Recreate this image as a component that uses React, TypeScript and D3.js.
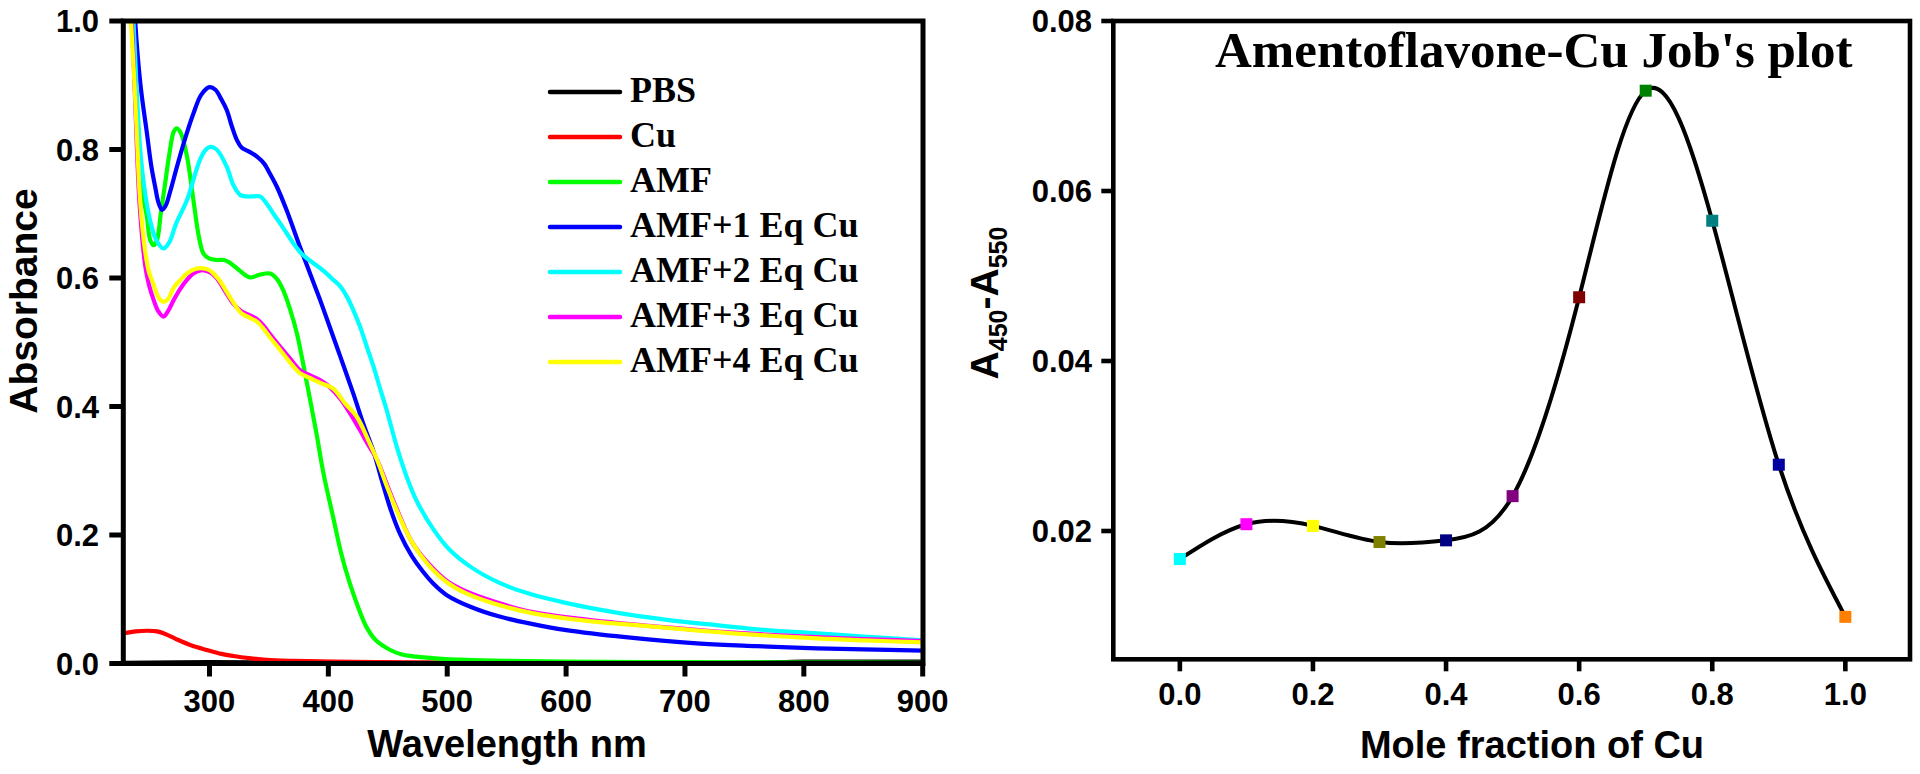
import React from "react";
import * as d3 from "d3";

// ---------- Left panel data (wavelength nm, absorbance) ----------
const seriesNames = ["PBS", "Cu", "AMF", "AMF+1 Eq Cu", "AMF+2 Eq Cu", "AMF+3 Eq Cu", "AMF+4 Eq Cu"];
const seriesColors = ["#000000", "#FF0000", "#00FF00", "#0000FF", "#00FFFF", "#FF00FF", "#FFFF00"];

const pbs: [number, number][] = [
  [228, 0.001], [300, 0.002], [400, 0.001], [500, 0.001], [600, 0.001], [700, 0.001],
  [780, 0.002], [800, 0.003], [850, 0.003], [900, 0.003],
];
const cu: [number, number][] = [
  [228, 0.047], [238, 0.05], [248, 0.051], [256, 0.05], [264, 0.045], [272, 0.038], [285, 0.028],
  [298, 0.021], [310, 0.015], [320, 0.0117], [335, 0.008], [348, 0.0055], [370, 0.004], [404, 0.003],
  [450, 0.002], [500, 0.0015], [600, 0.001], [700, 0.0005], [800, 0.0003], [900, 0.0],
];
const amf: [number, number][] = [
  [229, 1.3], [233, 1.05], [236, 0.95], [240, 0.8], [244, 0.73], [247.4, 0.695], [250, 0.66], [253, 0.651],
  [256, 0.66], [259, 0.7], [262.7, 0.747], [266, 0.79], [270, 0.828], [272.6, 0.833], [276, 0.825],
  [281, 0.79], [286.5, 0.721], [291, 0.665], [295, 0.638], [300, 0.63], [306, 0.628], [312, 0.628],
  [317, 0.624], [325, 0.612], [334, 0.601], [342, 0.605], [351, 0.607], [357, 0.598], [362, 0.581],
  [368, 0.55], [373.5, 0.514], [382, 0.436], [390, 0.358], [396, 0.295], [404, 0.228], [411, 0.17],
  [418, 0.125], [425, 0.088], [432, 0.057], [440, 0.036], [452, 0.021], [462, 0.014], [474, 0.0106],
  [490, 0.008], [516, 0.0055], [550, 0.004], [600, 0.003], [700, 0.002], [800, 0.0015], [900, 0.001],
];
const amf1: [number, number][] = [
  [230, 1.4], [234, 1.15], [237.5, 1.0], [242, 0.9], [247.4, 0.825], [251, 0.775], [254.3, 0.742],
  [257, 0.718], [260, 0.706], [263, 0.712], [267, 0.735], [272.6, 0.773], [280, 0.82], [286.5, 0.856],
  [293, 0.885], [300, 0.897], [305, 0.893], [310, 0.878], [314.6, 0.861], [319, 0.835], [323, 0.815],
  [327, 0.803], [333, 0.797], [340, 0.789], [346, 0.778], [351, 0.762], [356.7, 0.742], [365, 0.705],
  [376, 0.649], [385, 0.605], [393, 0.566], [400, 0.53], [410, 0.478], [421, 0.42], [430, 0.37],
  [438, 0.33], [445, 0.285], [452, 0.242], [460, 0.203], [470, 0.168], [480, 0.142], [488, 0.125],
  [500, 0.106], [520, 0.088], [544, 0.073], [570, 0.062], [600, 0.052], [650, 0.041], [713, 0.031],
  [760, 0.027], [811, 0.0236], [850, 0.022], [900, 0.02],
];
const amf2: [number, number][] = [
  [229, 1.4], [233, 1.1], [236, 1.0], [241.7, 0.8], [246, 0.73], [250, 0.69], [255, 0.66], [261.3, 0.646],
  [266, 0.655], [272, 0.685], [281, 0.721], [292, 0.784], [297, 0.8], [300.6, 0.804], [306, 0.8],
  [314.6, 0.773], [320, 0.745], [326, 0.729], [331.5, 0.727], [337, 0.727], [342.6, 0.727], [348, 0.716],
  [353.8, 0.7], [362, 0.678], [370.6, 0.654], [378, 0.637], [387.5, 0.623], [396, 0.611], [404.3, 0.597],
  [410, 0.587], [415.6, 0.571], [421, 0.55], [426.7, 0.524], [432, 0.495], [438, 0.462], [444, 0.425],
  [449, 0.395], [457.6, 0.337], [466, 0.29], [474, 0.254], [488, 0.21], [502, 0.177], [520, 0.15],
  [544.5, 0.125], [570, 0.108], [600.6, 0.094], [640, 0.08], [684.7, 0.068], [730, 0.059], [768.8, 0.052],
  [811, 0.047], [850, 0.042], [900, 0.036],
];
const amf3: [number, number][] = [
  [228, 1.4], [232, 1.1], [234.7, 1.0], [237, 0.9], [239, 0.8], [241, 0.72], [243.5, 0.66], [246, 0.618],
  [249, 0.59], [253, 0.566], [257, 0.548], [261.3, 0.54], [265, 0.548], [270, 0.566], [275, 0.582],
  [281, 0.597], [287, 0.608], [293, 0.612], [300, 0.609], [305, 0.602], [309, 0.592], [314, 0.577],
  [320, 0.56], [327, 0.548], [334, 0.542], [340, 0.536], [345, 0.527], [352, 0.51], [359.5, 0.493],
  [368, 0.474], [376, 0.457], [385, 0.448], [393, 0.441], [400, 0.432], [410, 0.412], [418, 0.39],
  [426.7, 0.363], [433, 0.342], [441, 0.317], [450, 0.275], [460, 0.23], [470, 0.19], [483, 0.158],
  [500, 0.128], [516, 0.112], [540, 0.096], [572, 0.08], [610, 0.07], [656, 0.061], [700, 0.054],
  [741, 0.048], [811, 0.041], [850, 0.038], [900, 0.035],
];
const amf4: [number, number][] = [
  [228, 1.4], [232, 1.1], [234, 1.0], [237, 0.9], [239, 0.82], [241, 0.74], [243.5, 0.68], [246, 0.64],
  [249, 0.61], [253, 0.59], [257, 0.57], [261.3, 0.563], [265, 0.567], [270, 0.585], [275, 0.596],
  [281, 0.607], [288, 0.614], [295, 0.615], [300, 0.612], [305, 0.604], [309, 0.595], [314, 0.58],
  [320, 0.562], [327, 0.545], [334, 0.538], [340, 0.532], [345, 0.522], [352, 0.505], [359.5, 0.488],
  [368, 0.468], [376, 0.452], [385, 0.444], [393, 0.437], [404, 0.428], [414, 0.405], [424, 0.384],
  [433, 0.35], [441, 0.317], [450, 0.272], [460, 0.228], [470, 0.19], [483, 0.156], [500, 0.126],
  [516, 0.109], [540, 0.093], [572.5, 0.078], [610, 0.068], [656.6, 0.06], [700, 0.053], [740.7, 0.047],
  [811, 0.039], [850, 0.036], [900, 0.033],
];
const spectra = [pbs, cu, amf, amf1, amf2, amf3, amf4];
const wlTicks = [300, 400, 500, 600, 700, 800, 900];
const absTicks = [0, 0.2, 0.4, 0.6, 0.8, 1.0];

// ---------- Right panel data (Job's plot) ----------
const moleFraction = [0.0, 0.1, 0.2, 0.3, 0.4, 0.5, 0.6, 0.7, 0.8, 0.9, 1.0];
const deltaA = [0.0167, 0.0208, 0.0206, 0.0187, 0.0189, 0.0241, 0.0475, 0.0718, 0.0565, 0.0278, 0.0099];
const pointColors = ["#00FFFF", "#FF00FF", "#FFFF00", "#808000", "#000080", "#800080", "#800000", "#008000", "#008080", "#0000A0", "#FF8000"];
const mfTicks = [0.0, 0.2, 0.4, 0.6, 0.8, 1.0];
const daTicks = [0.02, 0.04, 0.06, 0.08];

const SANS = "'Liberation Sans', Arial, Helvetica, sans-serif";
const SERIF = "'Liberation Serif', 'Times New Roman', serif";

export default function App() {
  // left panel scales
  const L = { left: 123.3, right: 923, top: 21, bottom: 663.5 };
  const xL = d3.scaleLinear().domain([227.5, 900]).range([L.left, 922.7]);
  const yL = d3.scaleLinear().domain([0, 1]).range([L.bottom, L.top]);
  const lineL = d3
    .line<[number, number]>()
    .x((d) => xL(d[0]))
    .y((d) => yL(d[1]))
    .curve(d3.curveCatmullRom.alpha(0.5));

  // right panel scales
  const R = { left: 1113.3, right: 1910, top: 21, bottom: 659.3 };
  const xR = d3.scaleLinear().domain([-0.1, 1.1]).range([R.left, 1911.9]);
  const yR = d3.scaleLinear().domain([0.005, 0.08]).range([658.5, 21]);
  const jobPts = moleFraction.map((m, i) => [m, deltaA[i]] as [number, number]);
  const lineR = d3
    .line<[number, number]>()
    .x((d) => xR(d[0]))
    .y((d) => yR(d[1]))
    .curve(d3.curveNatural);

  const legendY0 = 92;
  const legendDY = 45;

  return (
    <svg
      width={1920}
      height={774}
      viewBox="0 0 1920 774"
      style={{ position: "absolute", left: 0, top: 0, display: "block", background: "#fff" }}
    >
      <defs>
        <clipPath id="clipL">
          <rect x={L.left} y={L.top} width={L.right - L.left} height={L.bottom - L.top} />
        </clipPath>
      </defs>
      <rect x={0} y={0} width={1920} height={774} fill="#fff" />

      {/* ---------------- Left panel ---------------- */}
      <g clipPath="url(#clipL)">
        {spectra.map((s, i) => (
          <path key={i} d={lineL(s) || ""} fill="none" stroke={seriesColors[i]} strokeWidth={4.2} strokeLinejoin="round" />
        ))}
      </g>
      <rect x={L.left} y={L.top} width={L.right - L.left} height={L.bottom - L.top} fill="none" stroke="#000" strokeWidth={5} />
      {absTicks.map((t) => (
        <g key={"ya" + t}>
          <line x1={L.left - 14} x2={L.left} y1={yL(t)} y2={yL(t)} stroke="#000" strokeWidth={5} />
          <text x={99} y={yL(t) + 11} textAnchor="end" fontFamily={SANS} fontWeight="bold" fontSize={31}>
            {t.toFixed(1)}
          </text>
        </g>
      ))}
      {wlTicks.map((t) => (
        <g key={"xa" + t}>
          <line x1={xL(t)} x2={xL(t)} y1={L.bottom} y2={L.bottom + 13} stroke="#000" strokeWidth={5} />
          <text x={xL(t)} y={711.5} textAnchor="middle" fontFamily={SANS} fontWeight="bold" fontSize={31}>
            {t}
          </text>
        </g>
      ))}
      <text x={507} y={757} textAnchor="middle" fontFamily={SANS} fontWeight="bold" fontSize={38}>
        Wavelength nm
      </text>
      <text transform="translate(37,301) rotate(-90)" textAnchor="middle" fontFamily={SANS} fontWeight="bold" fontSize={39}>
        Absorbance
      </text>

      {/* legend */}
      {seriesNames.map((n, i) => (
        <g key={"lg" + i}>
          <line
            x1={550}
            x2={620}
            y1={legendY0 + i * legendDY}
            y2={legendY0 + i * legendDY}
            stroke={seriesColors[i]}
            strokeWidth={4.5}
            strokeLinecap="round"
          />
          <text x={630} y={legendY0 + i * legendDY + 10} fontFamily={SERIF} fontWeight="bold" fontSize={36}>
            {n}
          </text>
        </g>
      ))}

      {/* ---------------- Right panel ---------------- */}
      <rect x={R.left} y={R.top} width={R.right - R.left} height={R.bottom - R.top} fill="none" stroke="#000" strokeWidth={4.6} />
      {daTicks.map((t) => (
        <g key={"yr" + t}>
          <line x1={R.left - 12} x2={R.left} y1={yR(t)} y2={yR(t)} stroke="#000" strokeWidth={4.6} />
          <text x={1092} y={yR(t) + 11} textAnchor="end" fontFamily={SANS} fontWeight="bold" fontSize={31}>
            {t.toFixed(2)}
          </text>
        </g>
      ))}
      {mfTicks.map((t) => (
        <g key={"xr" + t}>
          <line x1={xR(t)} x2={xR(t)} y1={R.bottom} y2={R.bottom + 12} stroke="#000" strokeWidth={4.6} />
          <text x={xR(t)} y={705} textAnchor="middle" fontFamily={SANS} fontWeight="bold" fontSize={31}>
            {t.toFixed(1)}
          </text>
        </g>
      ))}
      <text x={1532} y={758} textAnchor="middle" fontFamily={SANS} fontWeight="bold" fontSize={38}>
        Mole fraction of Cu
      </text>
      <text transform="translate(998,303) rotate(-90)" textAnchor="middle" fontFamily={SANS} fontWeight="bold" fontSize={39}>
        A<tspan fontSize={25} dy={9}>450</tspan>
        <tspan dy={-9}>-A</tspan>
        <tspan fontSize={25} dy={9}>550</tspan>
      </text>
      <text x={1215} y={67} fontFamily={SERIF} fontWeight="bold" fontSize={51}>
        Amentoflavone-Cu Job's plot
      </text>
      <path d={lineR(jobPts) || ""} fill="none" stroke="#000" strokeWidth={4} />
      {jobPts.map((p, i) => (
        <rect key={"pt" + i} x={xR(p[0]) - 6} y={yR(p[1]) - 6} width={12} height={12} fill={pointColors[i]} />
      ))}
    </svg>
  );
}
